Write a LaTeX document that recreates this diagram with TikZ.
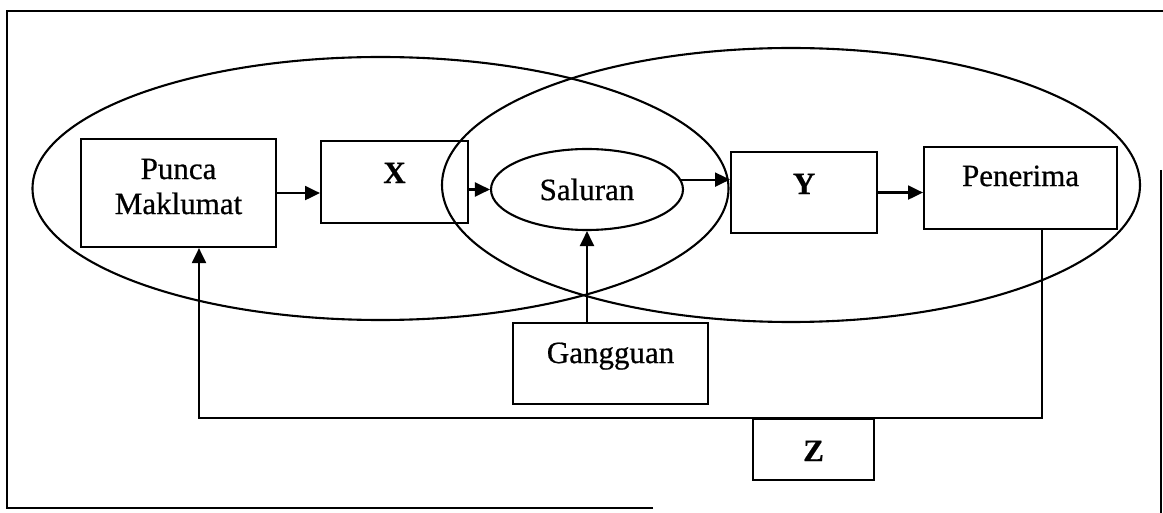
\documentclass[tikz,border=0pt]{standalone}
\usepackage{fontspec}
\setmainfont{Liberation Serif}[UprightFeatures={FakeBold=0.6},BoldFeatures={FakeBold=0.6}]
\usetikzlibrary{arrows.meta,shapes.geometric}
\begin{document}
\begin{tikzpicture}[x=1pt,y=-1pt,line width=2.1pt,
  every node/.style={font=\fontsize{31}{35}\selectfont, inner sep=0pt},
  kotak/.style={draw, rectangle, anchor=north west},
  bulat/.style={draw, ellipse},
  panah/.style={-{Triangle[length=15pt,width=14pt]}}]
\useasboundingbox (0,0) rectangle (1163,513);
% frame (as visible)
\draw (653,508) -- (7,508) -- (7,11) -- (1163,11);
\draw (1161,170) -- (1161,513);
% large ellipses
\node[bulat, minimum width=696pt, minimum height=263pt] (E1) at (380.5,188.5) {};
\node[bulat, minimum width=698pt, minimum height=274pt] (E2) at (791,185) {};
% boxes
\node[kotak, minimum width=195pt, text height=75pt, text depth=33pt] (P) at (80,138)
  {\begin{tabular}[b]{@{}c@{}}Punca\\Maklumat\end{tabular}};
\node[kotak, minimum width=147pt, text height=42pt, text depth=40pt] (X) at (320,140) {\textbf{X}};
\node[bulat, minimum width=192pt, minimum height=81pt] (S) at (587,189.5) {Saluran};
\node[kotak, minimum width=146pt, text height=42pt, text depth=39pt] (Y) at (730,151) {\textbf{Y}};
\node[kotak, minimum width=193pt, text height=39pt, text depth=43pt] (Pen) at (923,146) {Penerima};
\node[kotak, minimum width=195pt, text height=40pt, text depth=41pt] (G) at (512,322) {Gangguan};
\node[kotak, minimum width=121pt, text height=42pt, text depth=19pt] (Z) at (752,418) {\textbf{Z}};
% connectors
\draw[panah] (P.east) -- (P.east -| X.west);
\draw[panah] (X.east |- S.west) -- (S.west);
\draw[panah] (S.6) -- (S.6 -| Y.west);
\draw[panah] (Y.east) -- (Y.east -| Pen.west);
\draw[panah] (S.south |- G.north) -- (S.south);
\coordinate (fr) at (1042,418);
\coordinate (fl) at (199,418);
\draw[panah] (Pen.south -| fr) -- (fr) -- (fl) -- (P.south -| fl);
\end{tikzpicture}
\end{document}
